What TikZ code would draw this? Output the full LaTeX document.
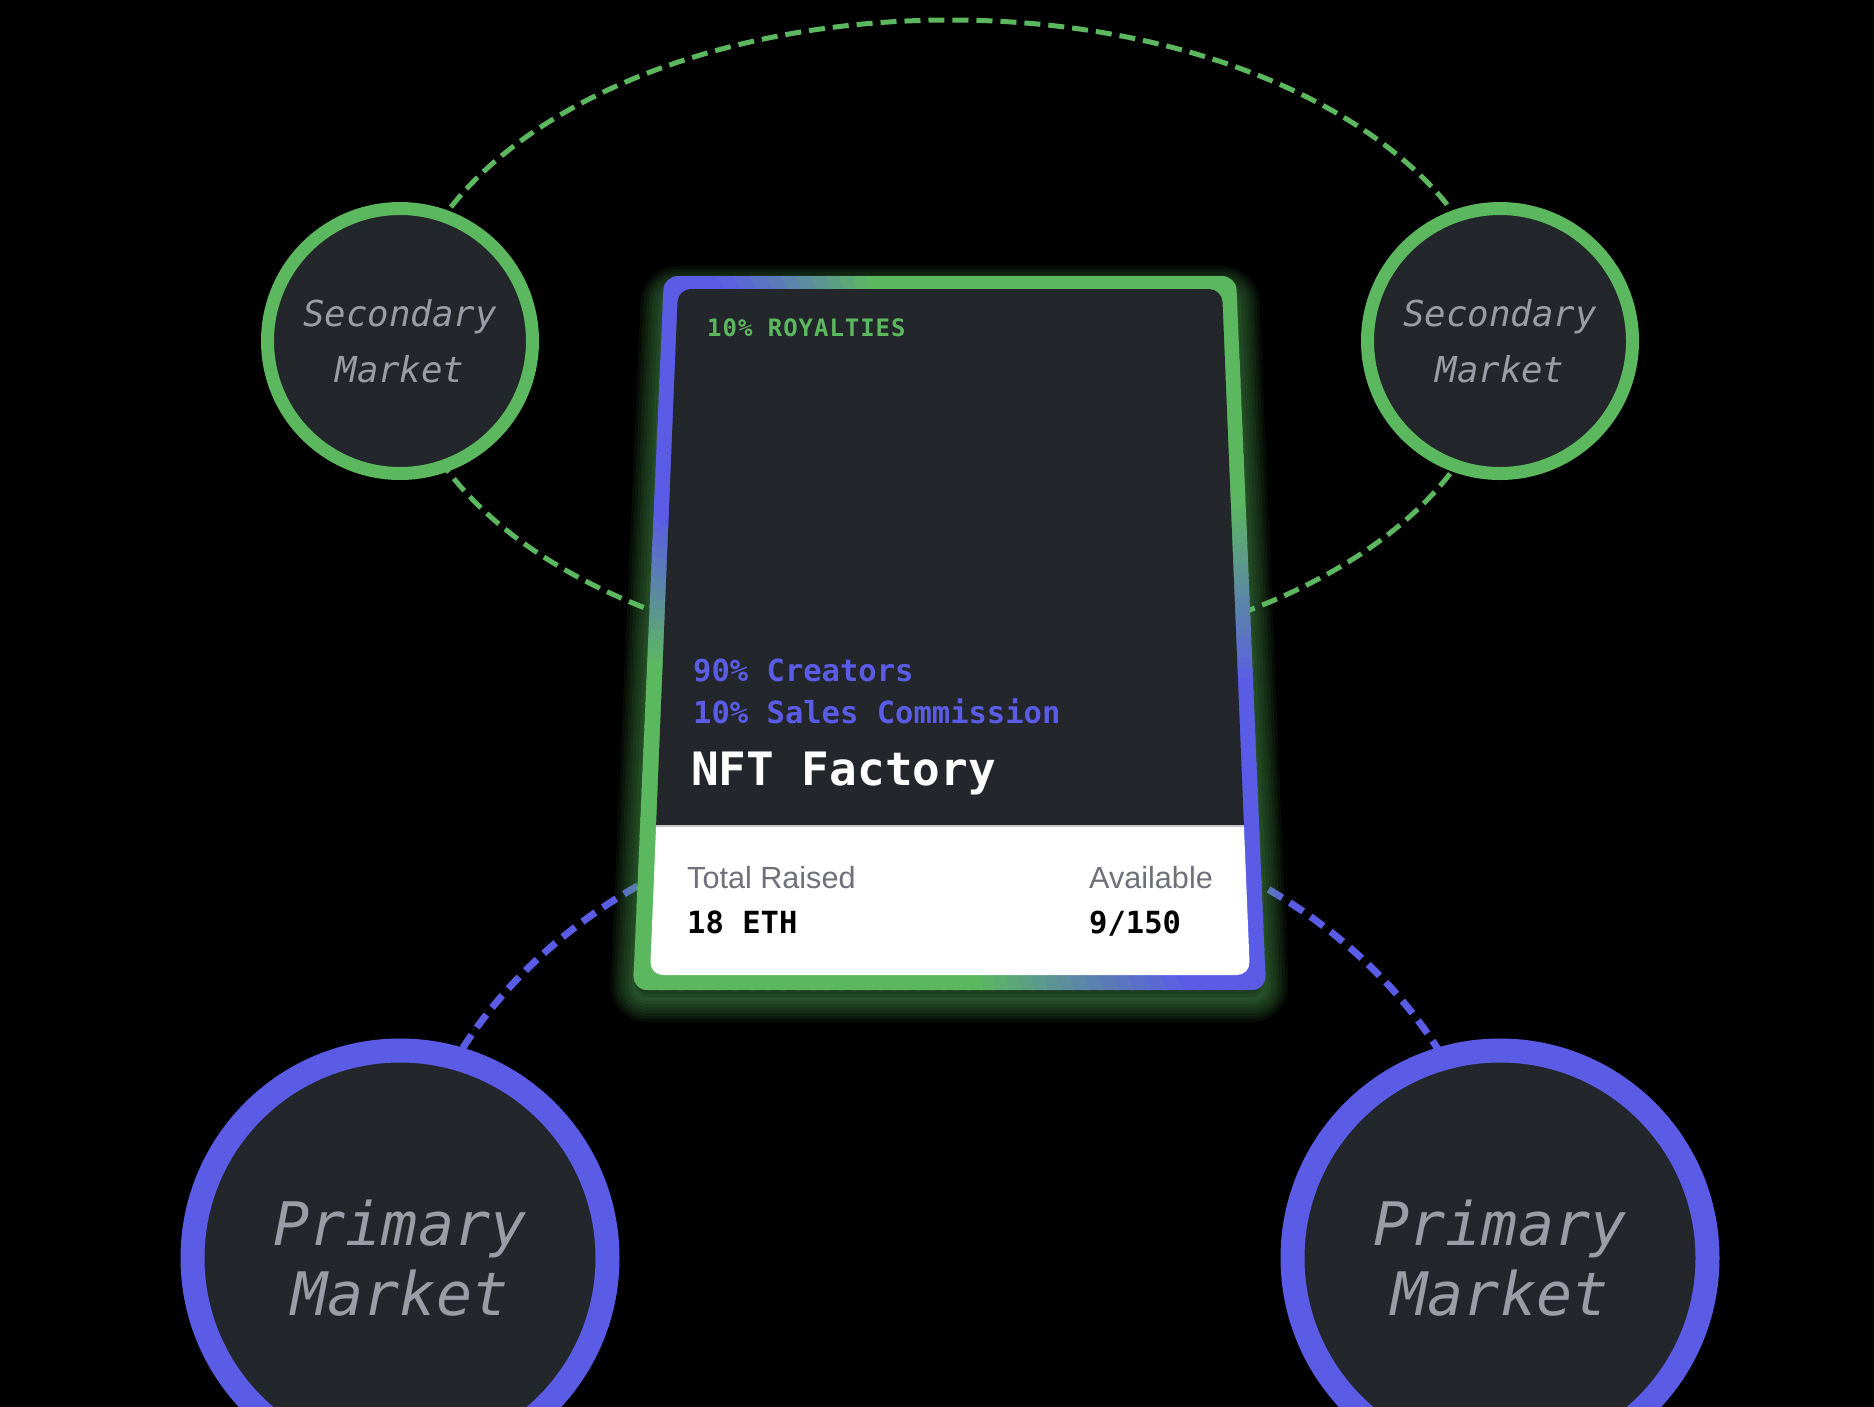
\documentclass[tikz,border=0pt]{standalone}
\usepackage{fontspec}
\setmainfont{Liberation Sans}
\newfontfamily\monofont{DejaVu Sans Mono}
\newfontfamily\roymono{DejaVu Sans Mono}[LetterSpace=4]
\usetikzlibrary{calc}
\definecolor{cgreen}{RGB}{92,184,94}
\definecolor{cblue}{RGB}{91,92,230}
\definecolor{cdark}{RGB}{35,38,43}
\definecolor{cgray}{RGB}{155,156,165}
\definecolor{lgray}{RGB}{112,112,122}
\tikzset{
  seccirc/.style={circle, draw=cgreen, fill=cdark, line width=13pt, minimum size=265pt,
    inner sep=0pt, align=center, text=cgray, font=\monofont\itshape\fontsize{35.7}{56}\selectfont},
  pricirc/.style={circle, draw=cblue, fill=cdark, line width=24pt, minimum size=415pt,
    inner sep=0pt, align=center, text=cgray, font=\monofont\itshape\fontsize{60}{70}\selectfont},
  lbl/.style={anchor=base west, inner sep=0pt},
  monobig/.style={lbl, font=\monofont\bfseries\fontsize{30.5}{36}\selectfont},
  greendash/.style={draw=cgreen, line width=5pt, dash pattern=on 16pt off 8pt},
  bluedash/.style={draw=cblue, line width=7pt, dash pattern=on 16pt off 9pt},
}
\begin{document}
\begin{tikzpicture}[x=1pt,y=-1pt]
\useasboundingbox (0,0) rectangle (1874,1406);
\fill[black] (-20,-20) rectangle (1894,1426);
% dashed orbits
\draw[greendash] (950,341) ellipse [x radius=549, y radius=321];
\draw[bluedash] (950,1258) ellipse [x radius=550, y radius=452];
% market circles
\node[seccirc] (secL) at (400,341) {Secondary\\Market};
\node[seccirc] (secR) at (1500,341) {Secondary\\Market};
\node[pricirc] (priL) at (400,1258) {Primary\\Market};
\node[pricirc] (priR) at (1500,1258) {Primary\\Market};
% glow
\foreach \w in {46,40,...,4}
  \draw[cgreen, opacity=0.07, line width=\w pt, rounded corners=14pt, yshift=-9pt]
    (664,280) -- (1236,280) -- (1266,990) -- (633,990) -- cycle;
% gradient border (fake conic)
\begin{scope}
  \clip[rounded corners=14pt] (664,276) -- (1236,276) -- (1266,990) -- (633,990) -- cycle;
  \foreach \a in {0,2,...,358} {
    \pgfmathsetmacro\ap{ifthenelse(\a<180,\a,\a-360)}
    \pgfmathsetmacro\bone{max(0,min(1,min((\ap+25)/35,(86-\ap)/30)))}
    \pgfmathsetmacro\btwo{max(0,min(1,min((\a-174)/28,(258-\a)/21)))}
    \pgfmathtruncatemacro\bb{100*max(\bone,\btwo)}
    \fill[cblue!\bb!cgreen] (950,633) -- +(\a-1.3:1200) -- +(\a+1.3:1200) -- cycle;
  }
\end{scope}
% card body
\begin{scope}
  \clip[rounded corners=13pt] (678,289) -- (1222,289) -- (1250,975) -- (650,975) -- cycle;
  \fill[cdark] (600,250) rectangle (1300,826);
  \fill[white] (600,826) rectangle (1300,1000);
  \draw[gray!45, line width=1.5pt] (600,826) -- (1300,826);
\end{scope}
% card texts
\node[lbl, text=cgreen, font=\roymono\bfseries\fontsize{24}{28}\selectfont] (roy) at (707,336) {10\% ROYALTIES};
\node[monobig, text=cblue] (cre) at (693,681) {90\% Creators};
\node[monobig, text=cblue] (com) at (693,723) {10\% Sales Commission};
\node[lbl, text=white, font=\monofont\bfseries\fontsize{46}{52}\selectfont] (nft) at (691,785) {NFT Factory};
\node[lbl, text=lgray, font=\fontsize{30.6}{36}\selectfont] (tr) at (687,888) {Total Raised};
\node[monobig, text=black] (eth) at (687,933) {18 ETH};
\node[lbl, text=lgray, font=\fontsize{30.6}{36}\selectfont] (av) at (1089,888) {Available};
\node[monobig, text=black] (num) at (1089,933) {9/150};
\end{tikzpicture}
\end{document}
